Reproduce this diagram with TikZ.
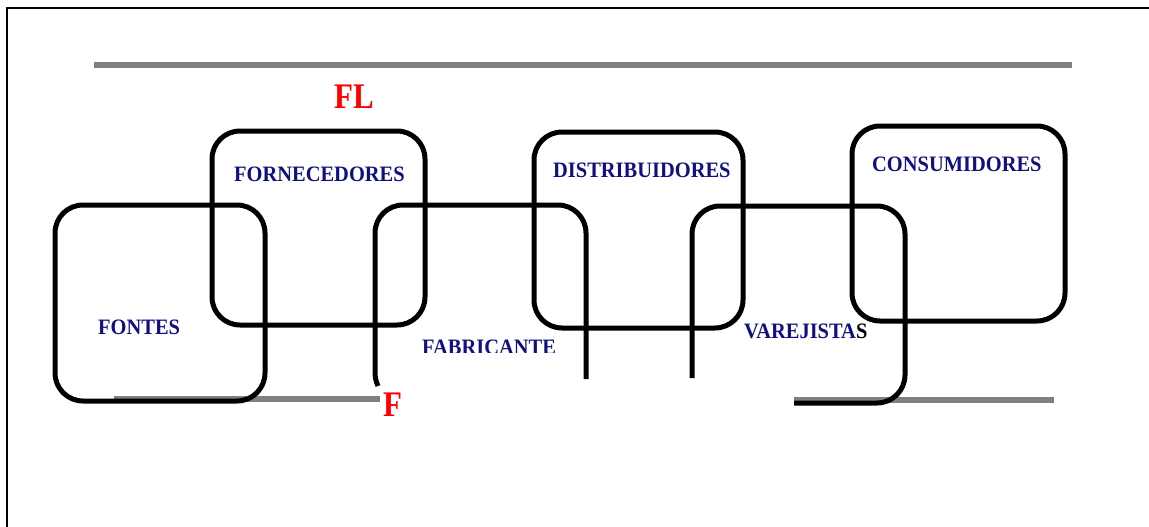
\documentclass[tikz,border=0pt]{standalone}
\usepackage{fontspec}
\setmainfont{Liberation Serif}
\definecolor{navyblue}{RGB}{16,16,128}
\definecolor{linegray}{RGB}{128,128,128}
\newcommand{\cond}[1]{\scalebox{0.93}[1]{#1}}
\newcommand{\redcond}[1]{\scalebox{0.86}[1]{#1}}
\begin{document}
\begin{tikzpicture}[x=1pt,y=-1pt,
  ring/.style={line width=5pt, rounded corners=28pt},
  bar/.style={draw=linegray, line width=5.5pt},
  frameline/.style={line width=2pt},
  lbl/.style={anchor=base west, inner sep=0pt, text=navyblue, font=\fontsize{22}{26}\selectfont\bfseries},
  redlbl/.style={anchor=base west, inner sep=0pt, text=red, font=\fontsize{36}{40}\selectfont\bfseries}]
\useasboundingbox (0,0) rectangle (1149,527);
% frame
\draw[frameline] (7,527) -- (7,8.5) -- (1149,8.5);
% gray bars
\draw[bar] (94,65) -- (1072,65);
\draw[bar] (114,399) -- (380,399);
\draw[bar] (794,400) -- (1054,400);
% FONTES
\draw[ring] (55,205) rectangle (265,401);
% FORNECEDORES
\draw[ring] (212,131) rectangle (425,325);
% FABRICANTE (open)
\draw[ring] (378,386) [rounded corners=4pt] -- (375,378) [rounded corners=28pt] -- (375,205) -- (586,205) -- (586,379);
% DISTRIBUIDORES
\draw[ring] (534,132) rectangle (743,328);
% VAREJISTAS (open)
\draw[ring] (692,378) -- (692,206) -- (905,206) -- (905,403) -- (794,403);
% CONSUMIDORES
\draw[ring] (852,126) rectangle (1065,321);
% labels
\node[lbl] (fontes) at (98,334) {\cond{FONTES}};
\node[lbl] (forn) at (234,181) {\cond{FORNECEDORES}};
\node[lbl] (dist) at (553,177) {\cond{DISTRIBUIDORES}};
\node[lbl] (cons) at (872,171) {\cond{CONSUMIDORES}};
\node[lbl] (var) at (744,338) {\cond{VAREJISTA\textcolor{black}{S}}};
\begin{scope}
\clip (400,330) rectangle (600,352);
\node[lbl] (fab) at (422,354) {\cond{FABRICANTE}};
\end{scope}
\node[redlbl] (fl) at (334,109) {\redcond{FL}};
\node[redlbl] (f) at (383,416) {\redcond{F}};
\end{tikzpicture}
\end{document}
